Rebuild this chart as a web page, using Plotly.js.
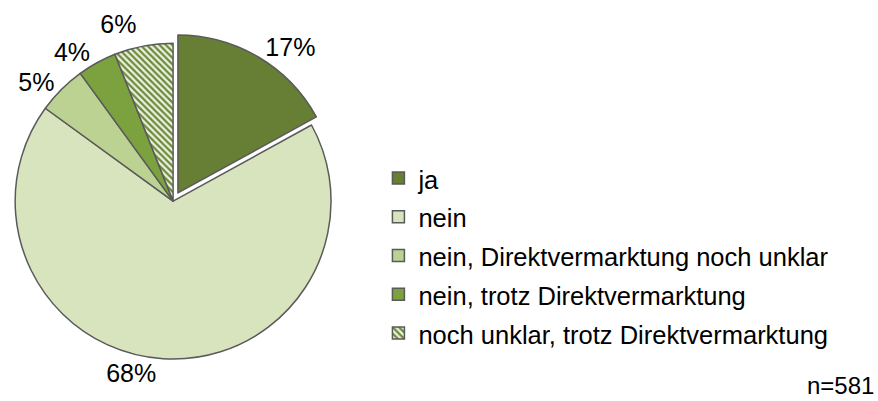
<!DOCTYPE html>
<html>
<head>
<meta charset="utf-8">
<script src="https://cdn.plot.ly/plotly-3.0.1.min.js"></script>
<style>
html,body{margin:0;padding:0;background:#fff;}
#chart{width:878px;height:401px;}
.textline{display:none;}
.legendtext{font-size:25.5px !important;}
</style>
</head>
<body>
<div id="chart"></div>
<script>
const categories = ["ja", "nein", "nein, Direktvermarktung noch unklar", "nein, trotz Direktvermarktung", "noch unklar, trotz Direktvermarktung"];
const values = [17, 68, 5, 4, 6];
const sampleNote = "n=581";

const colors = ["#677e35", "#d8e4bd", "#bbd292", "#7ba23f", "#ffffff"];
const pulls = [0.06, 0, 0, 0, 0];
const patternShapes = ["", "", "", "", "\\"];

const FONT = "Liberation Sans, Arial, sans-serif";

const trace = {
  type: "pie",
  labels: categories,
  values: values,
  sort: false,
  direction: "clockwise",
  rotation: 0,
  pull: pulls,
  textinfo: "percent",
  texttemplate: "%{percent:.0%}",
  textposition: "outside",
  outsidetextfont: {family: FONT, size: 25, color: "#000"},
  marker: {
    colors: colors,
    line: {color: "#5a5a5a", width: 1.5},
    pattern: {shape: patternShapes, fgcolor: "#6b8a38", bgcolor: "#edf2e3", size: 4.5, solidity: 0.5}
  },
  domain: {x: [0.0063, 0.388], y: [0.081, 0.916]},
  hoverinfo: "none",
  automargin: false
};

const layout = {
  width: 878, height: 401,
  margin: {l: 0, r: 0, t: 0, b: 0},
  paper_bgcolor: "#fff",
  showlegend: true,
  legend: {
    x: 0.431, xanchor: "left", y: 0.617, yanchor: "top",
    font: {family: FONT, size: 27.5, color: "#000"},
    bgcolor: "rgba(0,0,0,0)"
  },
  annotations: [{
    text: sampleNote, xref: "paper", yref: "paper", x: 0.998, y: 0.0,
    xanchor: "right", yanchor: "bottom", showarrow: false,
    font: {family: FONT, size: 24, color: "#000"}
  }]
};

Plotly.newPlot("chart", [trace], layout, {staticPlot: true});
</script>
</body>
</html>
